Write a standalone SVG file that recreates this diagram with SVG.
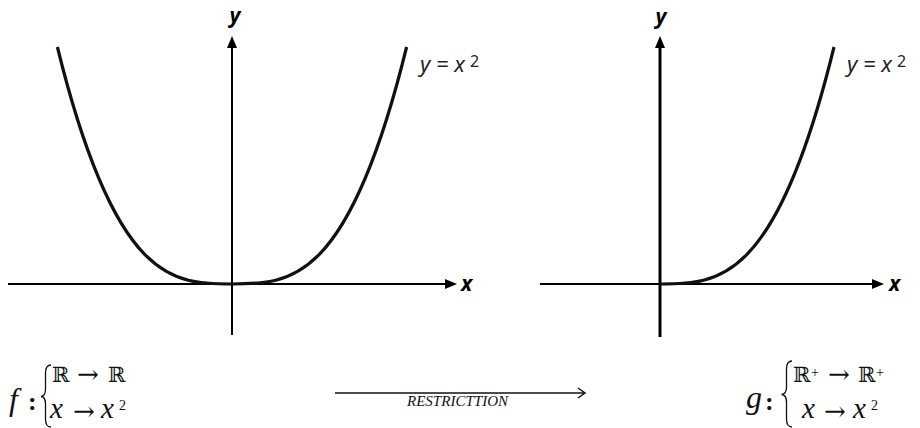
<svg xmlns="http://www.w3.org/2000/svg" width="920" height="428" viewBox="0 0 920 428">
<style>
.ax{stroke:#000;stroke-width:2;fill:none}
.ax2{stroke:#000;stroke-width:3;fill:none}
.cv{stroke:#111;stroke-width:3.2;fill:none}
.ah{fill:#000}
.lab{font-family:"Noto Sans","DejaVu Sans",sans-serif;font-style:italic;font-weight:bold;font-size:21px;fill:#000}
.eq{font-family:"Noto Sans","DejaVu Sans",sans-serif;font-style:italic;font-size:22px;fill:#222}
.sup{font-family:"Noto Sans","DejaVu Sans",sans-serif;font-size:16px;fill:#222}
.m{font-family:"Liberation Serif","DejaVu Serif",serif;fill:#111}
.mi{font-family:"Liberation Serif","DejaVu Serif",serif;font-style:italic;fill:#111}
.ds{font-family:"DejaVu Serif","Liberation Serif",serif;fill:#111}
.ar{font-family:"DejaVu Serif","Liberation Serif",serif;font-size:26px;fill:#111}
.br{stroke:#111;stroke-width:1.3;fill:none}
</style>
<g id="left-graph">
<line class="ax" x1="8" y1="284" x2="448" y2="284"/>
<polygon class="ah" points="457,284 445,279 445,289"/>
<line class="ax" x1="232" y1="335" x2="232" y2="46"/>
<polygon class="ah" points="232,36 227,48 237,48"/>
<path class="cv" d="M57.4,47 C115.6,284 173.8,284 232,284 C290.2,284 348.4,284 406.6,47"/>
<text class="lab" x="235" y="23" text-anchor="middle">y</text>
<text class="lab" x="461" y="291">x</text>
<text class="eq" x="420" y="72">y = x</text>
<text class="sup" x="470" y="67">2</text>
</g>
<g id="right-graph">
<line class="ax" x1="540" y1="284" x2="874" y2="284"/>
<polygon class="ah" points="884,284 872,279 872,289"/>
<line class="ax2" x1="660" y1="337" x2="660" y2="46"/>
<polygon class="ah" points="660,36 655,48 665,48"/>
<path class="cv" d="M660,284 C718,284 776,284 834,47"/>
<text class="lab" x="661" y="24" text-anchor="middle">y</text>
<text class="lab" x="889" y="291">x</text>
<text class="eq" x="847" y="72">y = x</text>
<text class="sup" x="897" y="67">2</text>
</g>
<g id="formula-f">
<text class="mi" x="9" y="410" font-size="32">f</text>
<text class="m" x="28" y="410" font-size="26" font-weight="bold">:</text>
<path class="br" d="M51,365 Q45.5,365 45.5,373 L45.5,389 Q45.5,396 41,396.5 Q45.5,397 45.5,404 L45.5,419 Q45.5,427 51,427"/>
<text class="ds" x="52" y="382" font-size="21">ℝ</text>
<text class="ar" x="77" y="383">→</text>
<text class="ds" x="108" y="382" font-size="21">ℝ</text>
<text class="mi" x="50" y="418" font-size="29">x</text>
<text class="ar" x="73" y="420">→</text>
<text class="mi" x="101" y="418" font-size="29">x</text>
<text class="m" x="119" y="410" font-size="14">2</text>
</g>
<g id="formula-g">
<text class="mi" x="746" y="408" font-size="32">g</text>
<text class="m" x="765" y="410" font-size="26" font-weight="bold">:</text>
<path class="br" d="M792,361 Q786.5,361 786.5,369 L786.5,387 Q786.5,394 781.5,394.5 Q786.5,395 786.5,402 L786.5,419 Q786.5,427 792,427"/>
<text class="ds" x="793" y="382" font-size="21">ℝ</text>
<text class="m" x="811" y="377" font-size="14">+</text>
<text class="ar" x="828" y="383">→</text>
<text class="ds" x="858" y="382" font-size="21">ℝ</text>
<text class="m" x="876" y="377" font-size="14">+</text>
<text class="mi" x="802" y="418" font-size="29">x</text>
<text class="ar" x="824" y="420">→</text>
<text class="mi" x="853" y="418" font-size="29">x</text>
<text class="m" x="871" y="410" font-size="14">2</text>
</g>
<g id="connectors">
<line x1="335" y1="393" x2="584" y2="393" stroke="#111" stroke-width="1.3"/>
<polyline points="578,388 585,393 578,398" fill="none" stroke="#111" stroke-width="1.5"/>
<text class="mi" x="407" y="406" font-size="14" textLength="101" lengthAdjust="spacingAndGlyphs">RESTRICTTION</text>
</g>
</svg>
